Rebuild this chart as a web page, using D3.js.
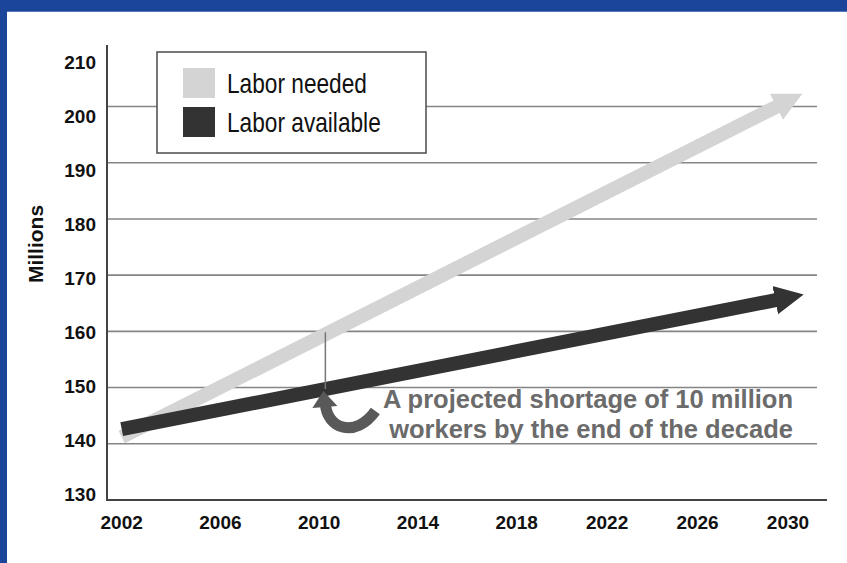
<!DOCTYPE html>
<html>
<head>
<meta charset="utf-8">
<script src="https://cdn.jsdelivr.net/npm/d3@7"></script>
<style>
  body { margin: 0; background: #fff; }
  svg { display: block; font-family: 'Liberation Sans', Arial, sans-serif; }
</style>
</head>
<body>
<svg id="chart" width="847" height="563"></svg>
<script>
const width = 847
const height = 563

// data
const years = [2002, 2030]
const laborNeeded = [141.2, 201]
const laborAvailable = [142.6, 166]
const yTicks = [130, 140, 150, 160, 170, 180, 190, 200, 210]
const xTicks = [2002, 2006, 2010, 2014, 2018, 2022, 2026, 2030]
const shortageYear = 2010.25
const legendLabels = ['Labor needed', 'Labor available']
const noteLines = ['A projected shortage of 10 million', 'workers by the end of the decade']

const colors = { needed: '#d4d4d4', available: '#333333' }

const svg = d3.select('svg#chart')

// frame
svg.append('rect').attr('width', width).attr('height', height).attr('fill', '#1b4598')
svg.append('rect').attr('x', 7).attr('y', 11).attr('width', width - 7).attr('height', height - 11).attr('fill', '#fff')
svg.append('line').attr('x1', 7).attr('x2', width).attr('y1', 11.5).attr('y2', 11.5)
  .attr('stroke', '#5577bb').attr('stroke-width', 1)

// scales (the original's ticks are a little uneven, hence the break at 2018)
const x = d3.scaleLinear().domain([2002, 2018, 2030]).range([121.7, 516.7, 788])
const y = d3.scaleLinear().domain([130, 200]).range([500, 106.5])
const yLabel = d3.scaleLinear().domain([130, 210]).range([494, 62])

const left = 107
const gridRight = 817
const axisRight = 827

// gridlines
svg.append('g')
  .selectAll('line')
  .data(yTicks.filter(d => d > 130 && d < 210))
  .join('line')
  .attr('x1', left).attr('x2', gridRight)
  .attr('y1', d => y(d)).attr('y2', d => y(d))
  .attr('stroke', '#858585').attr('stroke-width', 1.6)

// axes
svg.append('line').attr('x1', left).attr('x2', left).attr('y1', 45).attr('y2', y(130))
  .attr('stroke', '#444').attr('stroke-width', 2)
svg.append('line').attr('x1', left - 1).attr('x2', axisRight).attr('y1', y(130)).attr('y2', y(130))
  .attr('stroke', '#444').attr('stroke-width', 2)

svg.append('g')
  .selectAll('text')
  .data(yTicks)
  .join('text')
  .attr('x', 96)
  .attr('y', d => yLabel(d))
  .attr('dy', '0.36em')
  .attr('text-anchor', 'end')
  .attr('font-size', 19)
  .attr('font-weight', 'bold')
  .attr('fill', '#111')
  .text(d => d)

svg.append('g')
  .selectAll('text')
  .data(xTicks)
  .join('text')
  .attr('x', d => x(d))
  .attr('y', 528.5)
  .attr('text-anchor', 'middle')
  .attr('font-size', 19)
  .attr('font-weight', 'bold')
  .attr('fill', '#111')
  .text(d => d)

svg.append('text')
  .attr('transform', 'translate(43,244) rotate(-90)')
  .attr('text-anchor', 'middle')
  .attr('font-size', 21)
  .attr('font-weight', 'bold')
  .attr('fill', '#111')
  .text('Millions')

// arrow heads
const defs = svg.append('defs')
Object.entries(colors).forEach(([key, c]) => {
  defs.append('marker')
    .attr('id', `head-${key}`)
    .attr('markerUnits', 'userSpaceOnUse')
    .attr('markerWidth', 30).attr('markerHeight', 30)
    .attr('viewBox', '0 -15 30 30')
    .attr('refX', 13).attr('refY', 0)
    .attr('orient', 'auto')
    .append('path')
    .attr('d', 'M0,-14.5L29,0L0,14.5Z')
    .attr('fill', c)
})

const line = d3.line().x(d => x(d[0])).y(d => y(d[1]))

const series = [
  { key: 'needed', values: d3.zip(years, laborNeeded) },
  { key: 'available', values: d3.zip(years, laborAvailable) }
]

svg.append('g')
  .selectAll('path')
  .data(series)
  .join('path')
  .attr('d', d => line(d.values))
  .attr('fill', 'none')
  .attr('stroke', d => colors[d.key])
  .attr('stroke-width', 14)
  .attr('marker-end', d => `url(#head-${d.key})`)

// shortage connector, found on the drawn lines
function yAt (vals, yr) {
  const t = (x(yr) - x(years[0])) / (x(years[1]) - x(years[0]))
  return y(vals[0]) + t * (y(vals[1]) - y(vals[0]))
}
const cx = x(shortageYear)
const cTop = yAt(laborNeeded, shortageYear)
const cBottom = yAt(laborAvailable, shortageYear)

svg.append('line')
  .attr('x1', cx).attr('x2', cx)
  .attr('y1', cTop - 2).attr('y2', cBottom)
  .attr('stroke', '#777').attr('stroke-width', 1.5)

// curved pointer under the crossing
const curl = svg.append('g').attr('transform', `translate(${cx},${cBottom})`)
curl.append('path')
  .attr('d', 'M0,14 C1,40 30,50 50,22')
  .attr('fill', 'none')
  .attr('stroke', '#595959')
  .attr('stroke-width', 11)
curl.append('path')
  .attr('d', 'M-2,2 L-13,19 L12,17 Z')
  .attr('fill', '#595959')

// note
svg.append('g')
  .selectAll('text')
  .data(noteLines)
  .join('text')
  .attr('x', 793)
  .attr('y', (d, i) => 408 + i * 30)
  .attr('text-anchor', 'end')
  .attr('font-size', 25.5)
  .attr('font-weight', 'bold')
  .attr('fill', '#6b6b6b')
  .text(d => d)

// legend
const legend = svg.append('g')
legend.append('rect')
  .attr('x', 157).attr('y', 52).attr('width', 269).attr('height', 101)
  .attr('fill', '#fff').attr('stroke', '#555').attr('stroke-width', 1.6)

const item = legend.selectAll('g')
  .data(legendLabels)
  .join('g')
  .attr('transform', (d, i) => `translate(183,${68 + i * 39})`)
item.append('rect')
  .attr('width', 32).attr('height', 30)
  .attr('fill', (d, i) => i === 0 ? colors.needed : colors.available)
// the original uses a narrow face; squeeze the regular one
item.append('text')
  .attr('transform', 'translate(44,15) scale(0.84,1)')
  .attr('dy', '0.36em')
  .attr('font-size', 27)
  .attr('fill', '#111')
  .text(d => d)
</script>
</body>
</html>
